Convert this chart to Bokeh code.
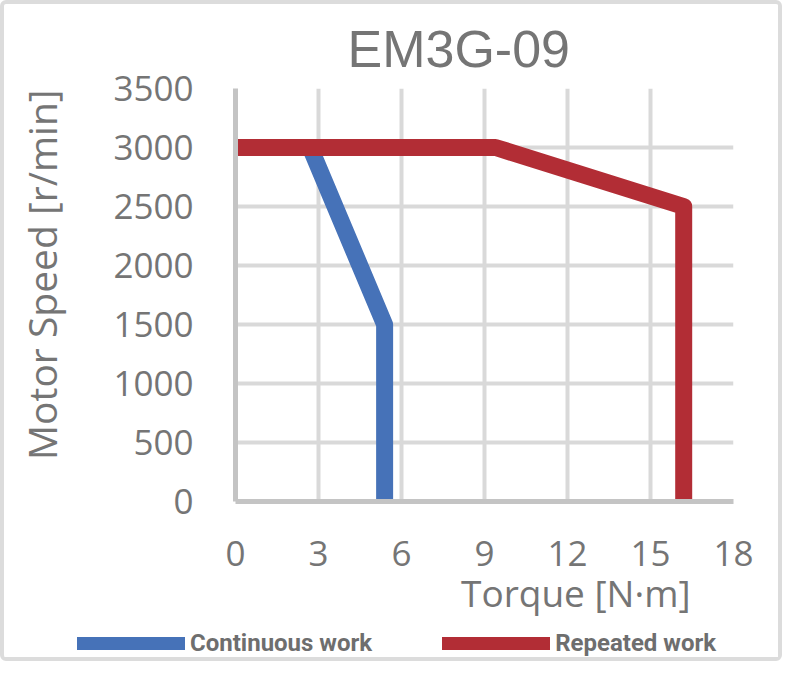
from bokeh.plotting import figure
from bokeh.layouts import column
from bokeh.models import FixedTicker, Legend, LegendItem, Title, ColumnDataSource, Range1d
from bokeh.embed import file_html
from bokeh.resources import INLINE

# ---- data ----
title_text = "EM3G-09"
x_label = "Torque [N·m]"
y_label = "Motor Speed [r/min]"
series_names = ["Continuous work", "Repeated work"]
torque_cont = [0, 2.7, 5.39, 5.39]
speed_cont = [3000, 3000, 1500, 0]
torque_rep = [0, 9.4, 16.2, 16.2]
speed_rep = [3000, 3000, 2500, 0]
x_ticks = [0, 3, 6, 9, 12, 15, 18]
y_ticks = [0, 500, 1000, 1500, 2000, 2500, 3000, 3500]

BLUE = "#4672B8"
RED = "#B22D35"
GRAY_TEXT = "#757575"
GRID = "#D9D9D9"
AXIS = "#C4C4C4"
NB = "\u00a0"

W = 774
H_MAIN = 624
H_LEG = 29

p = figure(width=W, height=H_MAIN, output_backend="svg", toolbar_location=None,
           x_range=(0, 18), y_range=(0, 3500),
           min_border_left=231, min_border_right=45, min_border_top=84, min_border_bottom=127)
p.outline_line_color = None
p.background_fill_color = "white"
p.border_fill_color = "white"

p.title = Title(text=title_text, align="left", offset=112, text_font="Liberation Sans",
                text_font_size="52px", text_font_style="normal", text_color=GRAY_TEXT, standoff=22)

for ax in (p.xaxis[0], p.yaxis[0]):
    ax.axis_line_color = AXIS
    ax.axis_line_width = 5
    ax.major_tick_line_color = None
    ax.minor_tick_line_color = None
    ax.major_label_text_font = "Open Sans"
    ax.major_label_text_font_size = "35px"
    ax.major_label_text_color = GRAY_TEXT
    ax.axis_label_text_font = "Open Sans"
    ax.axis_label_text_font_style = "normal"
    ax.axis_label_text_color = GRAY_TEXT
p.xaxis.axis_label_text_font_size = "37px"
p.yaxis.axis_label_text_font_size = "39px"
p.xaxis.ticker = FixedTicker(ticks=x_ticks)
p.yaxis.ticker = FixedTicker(ticks=y_ticks)
p.xaxis.major_label_standoff = 33
p.yaxis.major_label_standoff = 36
p.xaxis.axis_label = NB * 19 + x_label
p.yaxis.axis_label = NB * 4 + y_label
p.xaxis.axis_label_standoff = -2
p.yaxis.axis_label_standoff = 42

p.xgrid.ticker = FixedTicker(ticks=x_ticks)
p.ygrid.ticker = FixedTicker(ticks=y_ticks)
for g in (p.xgrid[0], p.ygrid[0]):
    g.grid_line_color = GRID
    g.grid_line_width = 4

p.line(torque_cont, speed_cont, line_color=BLUE, line_width=17, line_join="round", line_cap="butt")
p.line(torque_rep, speed_rep, line_color=RED, line_width=17, line_join="round", line_cap="butt")

# legend strip (separate figure so the legend is not clipped)
lg = figure(width=W, height=H_LEG, output_backend="svg", toolbar_location=None,
            x_range=Range1d(0, 1), y_range=Range1d(0, 1),
            x_axis_location=None, y_axis_location=None,
            min_border_left=0, min_border_right=0, min_border_top=0, min_border_bottom=0)
if hasattr(lg, "frame_align"):
    lg.frame_align = False
    p.frame_align = False
lg.grid.visible = False
lg.outline_line_color = None
lg.background_fill_color = "white"
lg.border_fill_color = "white"
off = ColumnDataSource(data=dict(x=[-5, -4], y=[-5, -5]))
lb = lg.line("x", "y", source=off, line_color=BLUE, line_width=13, line_cap="round")
lr = lg.line("x", "y", source=off, line_color=RED, line_width=13, line_cap="round")
legend = Legend(items=[LegendItem(label=series_names[0], renderers=[lb]),
                       LegendItem(label=series_names[1], renderers=[lr])],
                orientation="horizontal", location=(73, 0),
                padding=0, margin=0, spacing=70, label_standoff=5,
                glyph_width=108, glyph_height=20,
                border_line_color=None, background_fill_alpha=0,
                label_text_font="Roboto", label_text_font_style="bold",
                label_text_font_size="24px", label_text_color="#6E6E6E")
lg.add_layout(legend, "center")

layout = column(p, lg, spacing=0)
layout.styles = {"border": "4px solid #DCDCDC", "border-radius": "6px", "background-color": "white"}

open("out.html", "w").write(file_html(layout, INLINE))
